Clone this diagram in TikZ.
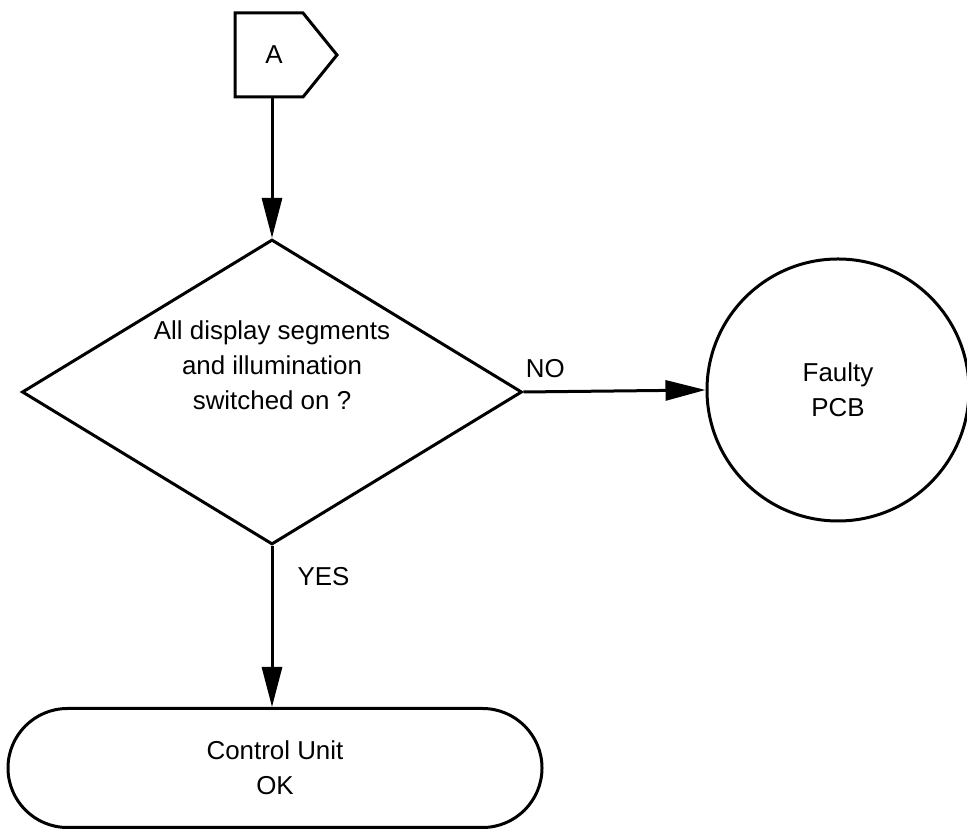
\documentclass[tikz,border=0pt]{standalone}
\usepackage{fontspec}
\setmainfont{Liberation Sans}
\usetikzlibrary{arrows.meta,shapes.geometric,shapes.misc}

\begin{document}
\begin{tikzpicture}[x=1bp,y=1bp,
    line width=3bp,
    every node/.style={font=\fontsize{26}{35}\selectfont},
    flow/.style={-{Triangle[length=40bp,width=20bp]}},
    decision/.style={draw,diamond,aspect=1.64,inner sep=0pt,
      minimum width=500bp,minimum height=305bp},
    result/.style={draw,circle,inner sep=0pt,minimum size=262bp,align=center},
    terminal/.style={draw,rounded rectangle,inner sep=0pt,
      minimum width=534bp,minimum height=119bp,align=center},
    answer/.style={inner sep=2bp}]
  \path[use as bounding box] (0,0) rectangle (967,830);
  \fill[white] (0,0) rectangle (967,830);

  \draw (235,817) -- (303,817) -- (337,775) -- (303,733) -- (235,733) -- cycle;
  \node (conA) at (274,775) {A};
  \coordinate (conAout) at (272,733);

  \node[decision] (decide) at (272,438) {};
  \node[align=center] (decidetxt) at (272,465) {All display segments\\
    and illumination\\switched on ?};

  \node[result] (faulty) at (838,440) {Faulty\\PCB};

  \node[terminal] (okay) at (275,62) {Control Unit\\OK};

  \draw[flow] (conAout) -- (decide.north);
  \draw[flow] (decide.east) -- node[answer,pos=0.12,above=10bp] {NO} (faulty.west);
  \draw[flow] (decide.south) -- node[answer,pos=0.19,right=22bp] {YES} (decide.south |- okay.north);
\end{tikzpicture}
\end{document}
